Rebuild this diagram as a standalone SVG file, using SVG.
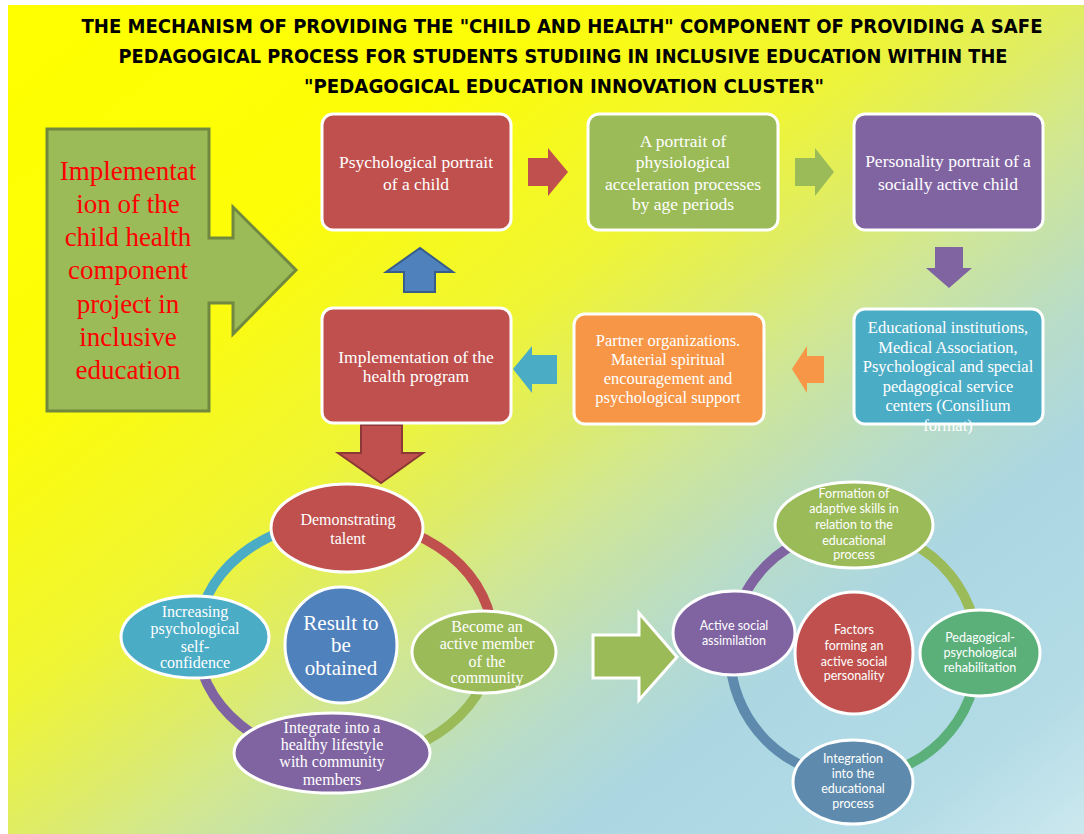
<svg xmlns="http://www.w3.org/2000/svg" width="1084" height="834" viewBox="0 0 1084 834">
<defs>
<linearGradient id="bg" x1="0" y1="0" x2="1" y2="1">
<stop offset="0" stop-color="#ffff00"/>
<stop offset="0.25" stop-color="#fdfd08"/>
<stop offset="0.42" stop-color="#eff534"/>
<stop offset="0.5" stop-color="#e0ed62"/>
<stop offset="0.58" stop-color="#cfe696"/>
<stop offset="0.68" stop-color="#b8dcc8"/>
<stop offset="0.76" stop-color="#acd7e2"/>
<stop offset="0.9" stop-color="#b2dbe6"/>
<stop offset="1" stop-color="#cce8ee"/>
</linearGradient>
<style>
.title{font-family:"DejaVu Sans Condensed","Liberation Sans",sans-serif;font-weight:bold;font-size:20px;fill:#000;text-anchor:middle}
.box{stroke:#fff;stroke-width:3}
.serif{font-family:"Liberation Serif","Times New Roman",serif;fill:#fff;text-anchor:middle}
.t17{font-size:17.5px}
.t16{font-size:16.5px}
.t15{font-size:16px}
.sans{font-family:Lato,"Liberation Sans",sans-serif;fill:#fff;text-anchor:middle;font-size:12.5px}
.ell{stroke:#fff;stroke-width:3}
.ring{fill:none;stroke-width:10}
.red{fill:#C0504D}.green{fill:#9BBB59}.purple{fill:#8064A2}.teal{fill:#4BACC6}.orange{fill:#F79646}.blue{fill:#4F81BD}
</style>
</defs>
<rect x="8" y="5" width="1076" height="829" fill="url(#bg)"/>
<g id="title">
<text class="title" x="562" y="33" textLength="961" lengthAdjust="spacingAndGlyphs">THE MECHANISM OF PROVIDING THE "CHILD AND HEALTH" COMPONENT OF PROVIDING A SAFE</text>
<text class="title" x="563" y="63" textLength="889" lengthAdjust="spacingAndGlyphs">PEDAGOGICAL PROCESS FOR STUDENTS STUDIING IN INCLUSIVE EDUCATION WITHIN THE</text>
<text class="title" x="564" y="93" textLength="520" lengthAdjust="spacingAndGlyphs">"PEDAGOGICAL EDUCATION INNOVATION CLUSTER"</text>
</g>
<g id="connectors">
<path class="red" d="M528,158 H548 V148 L568,172 L548,196 V186 H528 Z"/>
<path class="green" d="M795,158 H815 V148 L834,172 L815,196 V186 H795 Z"/>
<path class="purple" d="M935,247 H963 V268 H972 L949,288 L926,268 H935 Z"/>
<path class="orange" d="M824,356 V383 H807 V393 L792,369 L807,346 V356 Z"/>
<path class="teal" d="M557,355 V384 H532 V393 L513,369 L532,346 V355 Z"/>
<path class="blue" stroke="#385D8A" stroke-width="2" d="M404,292 V272 H386 L420,248 L453,272 H435 V292 Z"/>
<path class="red" stroke="#8C3836" stroke-width="2" d="M361,425 H402 V453 H423 L381,483 L338,453 H361 Z"/>
<path class="green" stroke="#fff" stroke-width="3" d="M593,635 H639 V613 L677,657 L639,700 V678 H593 Z"/>
<path class="ring" stroke="#4BACC6" d="M345,520 A148,120 0 0 0 197,640"/>
<path class="ring" stroke="#C0504D" d="M345,520 A148,120 0 0 1 493,640"/>
<path class="ring" stroke="#9BBB59" d="M493,640 A148,120 0 0 1 345,760"/>
<path class="ring" stroke="#8064A2" d="M345,760 A148,120 0 0 1 197,640"/>
<path class="ring" stroke="#8064A2" d="M730,653 A124,124 0 0 1 854,529"/>
<path class="ring" stroke="#9BBB59" d="M854,529 A124,124 0 0 1 978,653"/>
<path class="ring" stroke="#5BB07A" d="M978,653 A124,124 0 0 1 854,777"/>
<path class="ring" stroke="#5E8BAD" d="M854,777 A124,124 0 0 1 730,653"/>
</g>
<g id="project">
<path fill="#9BBB59" stroke="#71893F" stroke-width="3" d="M47,129 H209 V238 H233 V207 L296,270 L233,334 V303 H209 V411 H47 Z"/>
<g font-family="'Liberation Serif','Times New Roman',serif" font-size="27" fill="#FF0000" text-anchor="middle">
<text x="128" y="180">Implementat</text>
<text x="128" y="213">ion of the</text>
<text x="128" y="246">child health</text>
<text x="128" y="279">component</text>
<text x="128" y="313">project in</text>
<text x="128" y="346">inclusive</text>
<text x="128" y="379">education</text>
</g>
</g>
<g id="psych">
<rect class="box red" x="322" y="114" width="189" height="116" rx="11"/>
<text class="serif t17" x="416" y="168">Psychological portrait</text>
<text class="serif t17" x="416" y="190">of a child</text>
</g>
<g id="physio">
<rect class="box green" x="588" y="114" width="190" height="116" rx="11"/>
<text class="serif t17" x="683" y="147">A portrait of</text>
<text class="serif t17" x="683" y="168">physiological</text>
<text class="serif t17" x="683" y="190">acceleration processes</text>
<text class="serif t17" x="683" y="210">by age periods</text>
</g>
<g id="personality">
<rect class="box purple" x="854" y="114" width="189" height="116" rx="11"/>
<text class="serif t17" x="948" y="167">Personality portrait of a</text>
<text class="serif t17" x="948" y="190">socially active child</text>
</g>
<g id="institutions">
<rect class="box teal" x="854" y="309" width="189" height="115" rx="11"/>
<text class="serif t16" x="948" y="333">Educational institutions,</text>
<text class="serif t16" x="948" y="353">Medical Association,</text>
<text class="serif t16" x="948" y="372">Psychological and special</text>
<text class="serif t16" x="948" y="392">pedagogical service</text>
<text class="serif t16" x="948" y="411">centers (Consilium</text>
<text class="serif t16" x="948" y="431">format)</text>
</g>
<g id="partners">
<rect class="box orange" x="574" y="314" width="190" height="110" rx="11"/>
<text class="serif t16" x="668" y="346">Partner organizations.</text>
<text class="serif t16" x="668" y="365">Material spiritual</text>
<text class="serif t16" x="668" y="384">encouragement and</text>
<text class="serif t16" x="668" y="403">psychological support</text>
</g>
<g id="program">
<rect class="box red" x="322" y="308" width="189" height="115" rx="11"/>
<text class="serif t17" x="416" y="363">Implementation of the</text>
<text class="serif t17" x="416" y="382">health program</text>
</g>
<g id="talent">
<ellipse class="ell red" cx="347" cy="528" rx="76" ry="44"/>
<text class="serif t15" x="348" y="525">Demonstrating</text>
<text class="serif t15" x="348" y="544">talent</text>
</g>
<g id="member">
<ellipse class="ell green" cx="484" cy="652" rx="72" ry="41"/>
<text class="serif t15" x="487" y="632">Become an</text>
<text class="serif t15" x="487" y="649">active member</text>
<text class="serif t15" x="487" y="667">of the</text>
<text class="serif t15" x="487" y="683">community</text>
</g>
<g id="lifestyle">
<ellipse class="ell purple" cx="332" cy="753" rx="98" ry="40"/>
<text class="serif t15" x="332" y="733">Integrate into a</text>
<text class="serif t15" x="332" y="750">healthy lifestyle</text>
<text class="serif t15" x="332" y="767">with community</text>
<text class="serif t15" x="332" y="785">members</text>
</g>
<g id="confidence">
<ellipse class="ell teal" cx="195" cy="637" rx="74" ry="41"/>
<text class="serif t15" x="195" y="617">Increasing</text>
<text class="serif t15" x="195" y="634">psychological</text>
<text class="serif t15" x="195" y="652">self-</text>
<text class="serif t15" x="195" y="668">confidence</text>
</g>
<g id="result">
<ellipse class="ell blue" cx="341" cy="645" rx="56" ry="58"/>
<text class="serif" font-size="21" x="341" y="630">Result to</text>
<text class="serif" font-size="21" x="341" y="652">be</text>
<text class="serif" font-size="21" x="341" y="675">obtained</text>
</g>
<g id="adaptive">
<ellipse class="ell green" cx="854" cy="525" rx="79" ry="43"/>
<text class="sans" x="854" y="498">Formation of</text>
<text class="sans" x="854" y="513">adaptive skills in</text>
<text class="sans" x="854" y="529">relation to the</text>
<text class="sans" x="854" y="545">educational</text>
<text class="sans" x="854" y="559">process</text>
</g>
<g id="rehab">
<ellipse class="ell" fill="#5BB07A" cx="980" cy="653" rx="60" ry="43"/>
<text class="sans" x="980" y="642">Pedagogical-</text>
<text class="sans" x="980" y="657">psychological</text>
<text class="sans" x="980" y="672">rehabilitation</text>
</g>
<g id="integration">
<ellipse class="ell" fill="#5E8BAD" cx="853" cy="782" rx="60" ry="42"/>
<text class="sans" x="853" y="763">Integration</text>
<text class="sans" x="853" y="778">into the</text>
<text class="sans" x="853" y="793">educational</text>
<text class="sans" x="853" y="808">process</text>
</g>
<g id="assimilation">
<ellipse class="ell purple" cx="734" cy="633" rx="61" ry="42"/>
<text class="sans" x="734" y="630">Active social</text>
<text class="sans" x="734" y="645">assimilation</text>
</g>
<g id="factors">
<ellipse class="ell red" cx="854" cy="653" rx="59" ry="61"/>
<text class="sans" x="854" y="634">Factors</text>
<text class="sans" x="854" y="650">forming an</text>
<text class="sans" x="854" y="666">active social</text>
<text class="sans" x="854" y="680">personality</text>
</g>
</svg>
